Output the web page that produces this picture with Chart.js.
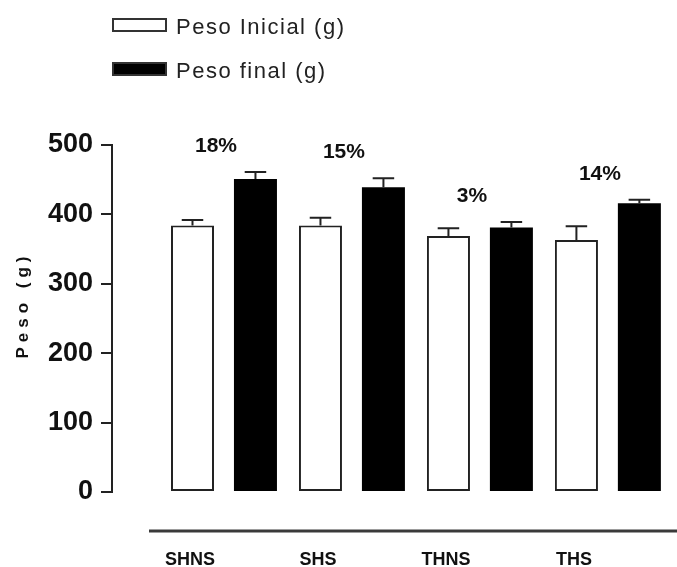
<!DOCTYPE html>
<html>
<head>
<meta charset="utf-8">
<script src="https://cdn.jsdelivr.net/npm/chart.js@4/dist/chart.umd.min.js"></script>
<style>
  html, body { margin: 0; padding: 0; background: #fff; }
  #wrap { width: 677px; height: 567px; position: relative; }
</style>
</head>
<body>
<div id="wrap"><canvas id="grafico"></canvas></div>
<script>
// dados
const grupos = ['SHNS', 'SHS', 'THNS', 'THS'];
const pesoInicial = [384, 384, 369, 363];
const pesoFinal = [451, 439, 381, 416];
const erroInicial = [8, 11, 11, 20];
const erroFinal = [10, 13, 8, 5];
const ganho = ['18%', '15%', '3%', '14%'];
const yMax = 500;
const yPasso = 100;

const erros = [erroInicial, erroFinal];
const fonte = '"Liberation Sans", Arial, sans-serif';
const escuro = '#222';

// barras de erro, percentuais, legenda, linha do eixo x e título do eixo y
const extras = {
  id: 'extras',
  afterDatasetsDraw(chart) {
    const ctx = chart.ctx;
    const y = chart.scales.y;
    ctx.save();
    ctx.strokeStyle = escuro;
    ctx.lineWidth = 2;
    chart.data.datasets.forEach((ds, d) => {
      chart.getDatasetMeta(d).data.forEach((bar, i) => {
        const topo = y.getPixelForValue(ds.data[i].y + erros[d][i]);
        const meia = bar.width / 4;
        ctx.beginPath();
        ctx.moveTo(bar.x, bar.y);
        ctx.lineTo(bar.x, topo);
        ctx.moveTo(bar.x - meia, topo);
        ctx.lineTo(bar.x + meia, topo);
        ctx.stroke();
      });
    });
    ctx.restore();
  },
  afterDraw(chart) {
    const ctx = chart.ctx;
    const y = chart.scales.y;
    const x = chart.scales.x;
    const area = chart.chartArea;
    ctx.save();

    // percentuais acima de cada grupo
    ctx.fillStyle = '#111';
    ctx.font = 'bold 21px ' + fonte;
    ctx.textAlign = 'center';
    ctx.textBaseline = 'alphabetic';
    grupos.forEach((g, i) => {
      const alto = Math.max(pesoInicial[i] + erroInicial[i], pesoFinal[i] + erroFinal[i]);
      ctx.fillText(ganho[i], x.getPixelForValue(i) - 8, y.getPixelForValue(alto) - 20);
    });

    // linha do eixo x, separada das barras
    ctx.strokeStyle = '#3a3a3a';
    ctx.lineWidth = 3;
    ctx.beginPath();
    ctx.moveTo(area.left + 37, area.bottom + 39);
    ctx.lineTo(chart.width, area.bottom + 39);
    ctx.stroke();

    // título do eixo y
    ctx.save();
    ctx.translate(23, 305);
    ctx.rotate(-Math.PI / 2);
    ctx.font = 'bold 17px ' + fonte;
    ctx.letterSpacing = '5px';
    ctx.textAlign = 'center';
    ctx.textBaseline = 'middle';
    ctx.fillStyle = '#111';
    ctx.fillText('Peso (g)', 0, 0);
    ctx.restore();

    // legenda
    ctx.font = '22px ' + fonte;
    ctx.letterSpacing = '1.5px';
    ctx.textAlign = 'left';
    ctx.textBaseline = 'alphabetic';
    chart.data.datasets.forEach((ds, d) => {
      const topo = 18 + d * 44;
      ctx.fillStyle = ds.backgroundColor;
      ctx.fillRect(112, topo, 55, 14);
      ctx.strokeStyle = '#333';
      ctx.lineWidth = 2;
      ctx.strokeRect(113, topo + 1, 53, 12);
      ctx.fillStyle = escuro;
      ctx.fillText(ds.label, 176, topo + 16);
    });
    ctx.restore();
  }
};

new Chart(document.getElementById('grafico'), {
  type: 'bar',
  data: {
    datasets: [
      {
        label: 'Peso Inicial (g)',
        data: pesoInicial.map((v, i) => ({x: i, y: v})),
        backgroundColor: '#ffffff',
        borderColor: escuro,
        borderWidth: 2,
        borderSkipped: false
      },
      {
        label: 'Peso final (g)',
        data: pesoFinal.map((v, i) => ({x: i, y: v})),
        backgroundColor: '#000000',
        borderColor: '#000000',
        borderWidth: 0,
        borderSkipped: false
      }
    ]
  },
  options: {
    responsive: true,
    maintainAspectRatio: false,
    animation: false,
    categoryPercentage: 0.984,
    barPercentage: 0.683,
    layout: { padding: { top: 145, left: 0, right: 0, bottom: 0 } },
    plugins: {
      legend: { display: false },
      tooltip: { enabled: false }
    },
    scales: {
      x: {
        type: 'linear',
        offset: false,
        min: -0.875,
        max: 3.54,
        grid: { display: false, offset: false },
        border: { display: false },
        afterFit(scale) { scale.height = 75; },
        ticks: {
          stepSize: 1,
          includeBounds: false,
          autoSkip: false,
          maxRotation: 0,
          padding: 49,
          labelOffset: -34,
          color: '#111',
          font: { family: fonte, size: 18, weight: 'bold' },
          callback: (v) => grupos[v] ?? ''
        }
      },
      y: {
        min: 0,
        max: yMax,
        afterFit(scale) { scale.width = 112; },
        grid: {
          drawOnChartArea: false,
          drawTicks: true,
          tickLength: 11,
          color: escuro,
          lineWidth: 2
        },
        border: { display: true, color: escuro, width: 2 },
        ticks: {
          stepSize: yPasso,
          padding: 8,
          color: '#111',
          font: { family: fonte, size: 27, weight: 'bold' }
        }
      }
    }
  },
  plugins: [extras]
});
</script>
</body>
</html>
